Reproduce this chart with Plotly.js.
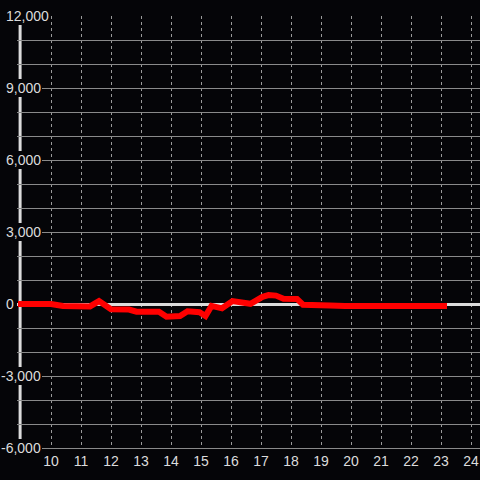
<!DOCTYPE html>
<html>
<head>
<meta charset="utf-8">
<script src="https://cdn.plot.ly/plotly-3.0.1.min.js"></script>
<style>
html,body{margin:0;padding:0;background:#050508;}
#chart{width:480px;height:480px;}
</style>
</head>
<body>
<div id="chart"></div>
<script>
// ---- data ----
const hours = [8.9, 10, 10.4, 10.8, 11.3, 11.6, 12.0, 12.6, 12.85, 13.6, 13.85, 14.3, 14.55, 14.95, 15.15, 15.35, 15.7, 16.05, 16.4, 16.65, 17.05, 17.25, 17.5, 17.75, 18.2, 18.4, 19.3, 19.8, 23.2];
const values = [0, 0, -80, -100, -100, 120, -220, -230, -320, -320, -530, -500, -300, -340, -500, -80, -180, 120, 90, 10, 300, 370, 350, 220, 210, -30, -60, -80, -80];
const xTickVals = [10, 11, 12, 13, 14, 15, 16, 17, 18, 19, 20, 21, 22, 23, 24];
const yGridVals = [-6000, -5000, -4000, -3000, -2000, -1000, 0, 1000, 2000, 3000, 4000, 5000, 6000, 7000, 8000, 9000, 10000, 11000, 12000];
const yLabelVals = [12000, 9000, 6000, 3000, 0, -3000, -6000];

// ---- style ----
const BG = '#050508';
const TXT = '#dcdcdc';
const W = 480, H = 480;
const M = {l: 17, r: 0, t: 16, b: 32};
const plotW = W - M.l - M.r;
const xRange = [8.8667, 24.3];
const yRange = [-6000, 12000];
const FAMILY = '"Liberation Sans", Arial, sans-serif';
const mkFont = () => ({family: FAMILY, size: 14, color: TXT});

const annotations = yLabelVals.map(v => ({
  xref: 'paper', yref: 'y',
  x: (4.5 - M.l) / plotW, y: v,
  xanchor: 'left', yanchor: 'middle',
  xshift: v < 0 ? -4.7 : 0,
  text: v.toLocaleString('en-US'),
  showarrow: false,
  font: mkFont(),
  bgcolor: BG,
  borderpad: 1,
  borderwidth: 0
}));

const trace = {
  type: 'scatter', mode: 'lines',
  x: hours, y: values,
  line: {color: '#ff0000', width: 6},
  hoverinfo: 'skip'
};

const layout = {
  width: W, height: H,
  margin: M,
  paper_bgcolor: BG, plot_bgcolor: BG,
  showlegend: false,
  font: mkFont(),
  xaxis: {
    range: xRange,
    tickmode: 'array', tickvals: xTickVals,
    ticks: '', ticklen: 0,
    showgrid: true, gridcolor: '#9a9a9a', gridwidth: 1, griddash: '3px,3px',
    zeroline: false,
    showline: true, linecolor: '#8a8a8a', linewidth: 1,
    tickfont: mkFont()
  },
  yaxis: {
    range: yRange,
    tickmode: 'array', tickvals: yGridVals,
    showticklabels: false, ticks: '',
    showgrid: true, gridcolor: '#8a8a8a', gridwidth: 1,
    zeroline: true, zerolinecolor: '#dcdcdc', zerolinewidth: 3,
    showline: false
  },
  shapes: [{
    type: 'line', layer: 'between',
    xref: 'x', yref: 'paper',
    x0: 8.97, x1: 8.97, y0: 0, y1: 1,
    line: {color: '#dcdcdc', width: 3}
  }],
  annotations: annotations
};

Plotly.newPlot('chart', [trace], layout, {staticPlot: true, displayModeBar: false});
</script>
</body>
</html>
